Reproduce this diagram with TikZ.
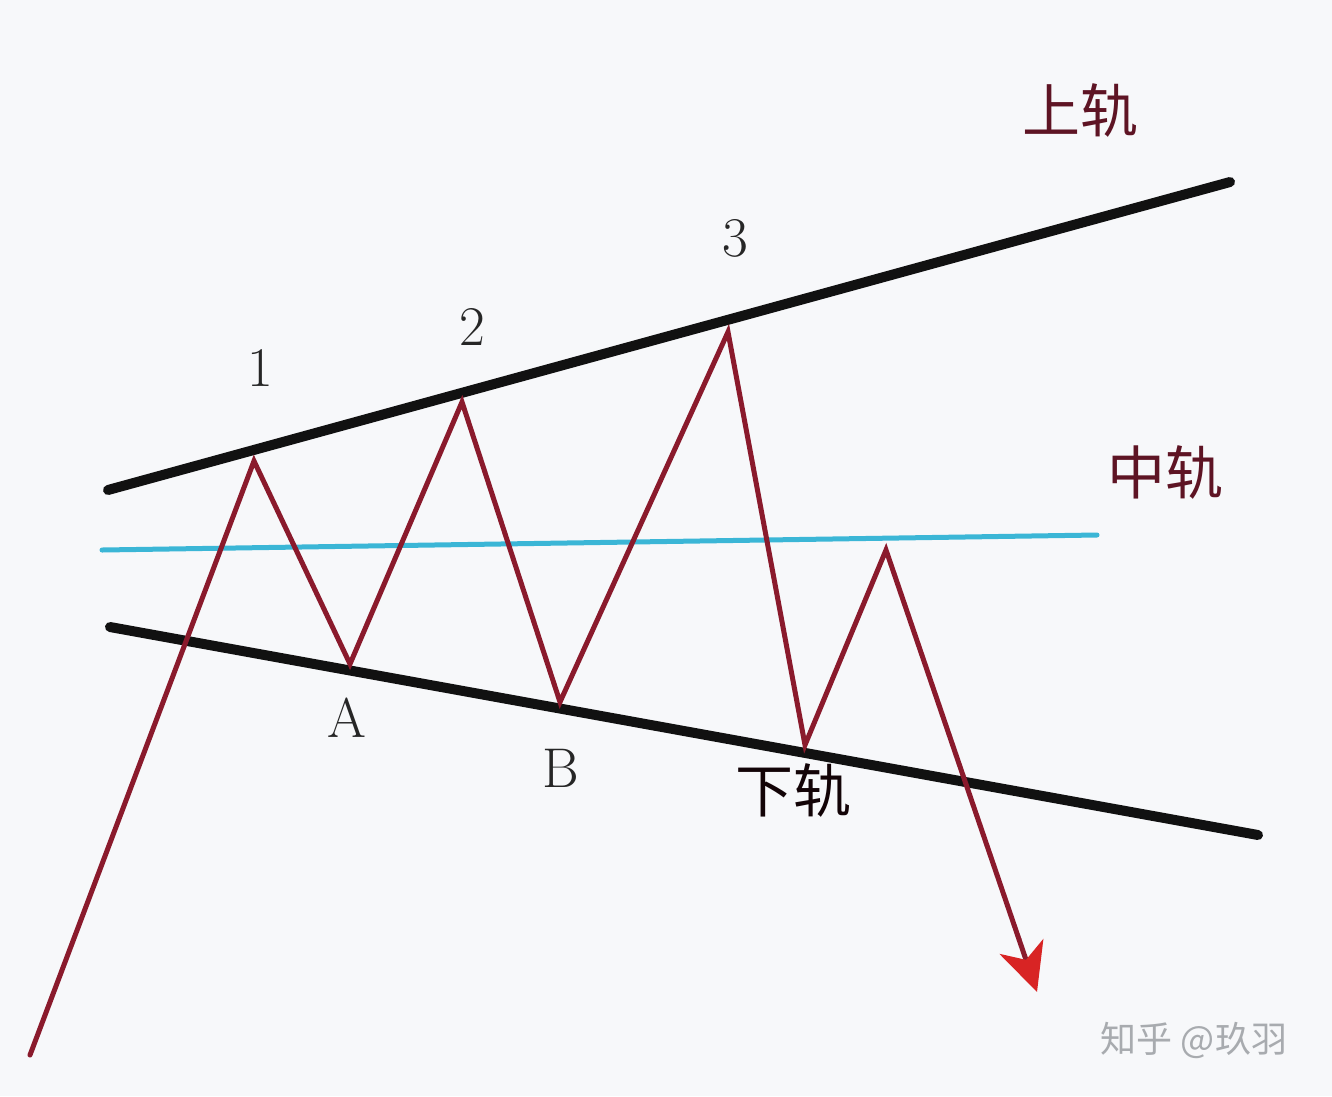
\documentclass[tikz,border=0pt]{standalone}
\usepackage{fontspec}
\newfontfamily\cjk{Noto Sans CJK SC}
\usetikzlibrary{arrows.meta,calc}
\definecolor{bgc}{HTML}{F7F8FA}
\definecolor{railc}{HTML}{111111}
\definecolor{midc}{HTML}{3BB6D6}
\definecolor{pricec}{HTML}{8A1A2C}
\definecolor{tipc}{HTML}{D82424}
\definecolor{labc}{HTML}{5E1424}
\definecolor{wmc}{HTML}{A8ABAF}
\tikzset{
  rail/.style={draw=railc, line width=10pt, line cap=round},
  midrail/.style={draw=midc, line width=5pt, line cap=round},
  price/.style={draw=pricec, line width=5pt, line join=miter, line cap=round},
  numlab/.style={font=\fontsize{56}{56}\selectfont, text=black!85},
  cnlab/.style={font=\cjk\fontsize{58}{58}\selectfont, text=labc},
  wm/.style={font=\cjk\fontsize{36}{36}\selectfont, text=wmc},
}
\begin{document}
\begin{tikzpicture}[x=1pt,y=-1pt]
\fill[bgc] (0,0) rectangle (1332,1096);
\useasboundingbox (0,0) rectangle (1332,1096);
% rails
\coordinate (u1) at (108,490);
\coordinate (u2) at (1230,182);
\coordinate (m1) at (102,550);
\coordinate (m2) at (1097,535);
\coordinate (l1) at (110,627);
\coordinate (l2) at (1258,835);
\draw[rail] (u1) -- (u2);
\draw[midrail] (m1) -- (m2);
\draw[rail] (l1) -- (l2);
% price path
\coordinate (s) at (30,1055);
\coordinate (p1) at (254,461);
\coordinate (pa) at (350,664);
\coordinate (p2) at (462,402);
\coordinate (pb) at (560,702);
\coordinate (p3) at (728,332);
\coordinate (pc) at (805,745);
\coordinate (p4) at (886,550);
\coordinate (e) at (1037,992);
\coordinate (ee) at ($(p4)!0.88!(e)$);
\draw[price] (s) -- (p1) -- (pa) -- (p2) -- (pb) -- (p3) -- (pc) -- (p4) -- (ee);
\draw[pricec, line width=5pt, -{Stealth[length=48pt,width=46pt,inset=14pt,fill=tipc,color=tipc]}] (ee) -- (e);
% labels
\node[numlab] (n1) at (260,368) {1};
\node[numlab] (n2) at (472,327) {2};
\node[numlab] (n3) at (735,238) {3};
\node[numlab] (na) at (347,718) {A};
\node[numlab] (nb) at (561,768) {B};
\node[cnlab] (up) at (1080,110) {上轨};
\node[cnlab] (mid) at (1165,472) {中轨};
\node[cnlab, text=black!80!labc] (low) at (793,790) {下轨};
\node[wm] (w) at (1194,1040) {知乎 @玖羽};
\end{tikzpicture}
\end{document}
